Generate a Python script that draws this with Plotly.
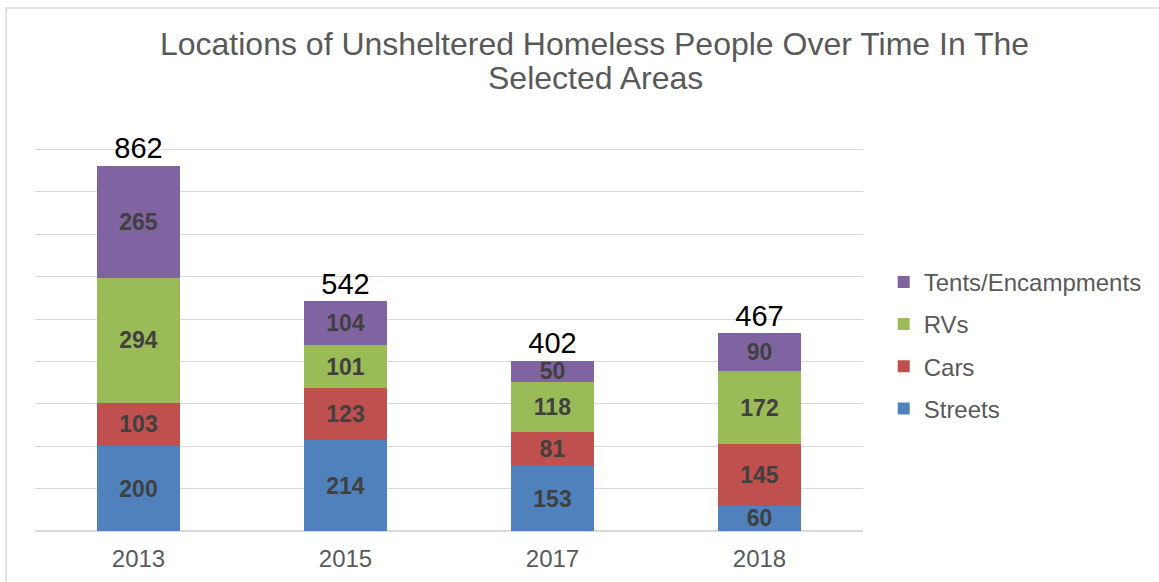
import plotly.graph_objects as go

years = ["2013", "2015", "2017", "2018"]
streets = [200, 214, 153, 60]
cars = [103, 123, 81, 145]
rvs = [294, 101, 118, 172]
tents = [265, 104, 50, 90]
totals = [862, 542, 402, 467]

series = [
    ("Streets", streets, "#4F81BD"),
    ("Cars", cars, "#C0504D"),
    ("RVs", rvs, "#9BBB59"),
    ("Tents/Encampments", tents, "#8064A2"),
]

FONT = "Liberation Sans, Arial, sans-serif"

fig = go.Figure()
for i, (name, vals, color) in enumerate(series):
    fig.add_trace(go.Bar(
        x=years, y=vals, name=name,
        marker=dict(color=color, line=dict(width=0)),
        text=vals, textposition="inside", insidetextanchor="middle",
        textangle=0,
        textfont=dict(family=FONT, size=23, color="#404040", weight="bold"),
        legendgroup=name, legendrank=len(series) - i,
    ))

# totals above each stack
fig.add_trace(go.Scatter(
    x=years, y=totals, mode="text", text=totals,
    textposition="top center", showlegend=False, hoverinfo="skip",
    textfont=dict(family=FONT, size=29, color="#000000"),
))

fig.update_layout(
    width=1159, height=582,
    margin=dict(l=35, r=296, t=107, b=51, autoexpand=False),
    barmode="stack", bargap=0.6,
    paper_bgcolor="white", plot_bgcolor="white",
    font=dict(family=FONT, color="#595959"),
    uniformtext=dict(mode="show", minsize=23),
    title=dict(
        text="Locations of Unsheltered Homeless People Over Time In The",
        x=0.513, xanchor="center", y=0.924, yanchor="middle",
        font=dict(family=FONT, size=32, color="#595959"),
    ),
    xaxis=dict(type="category", showgrid=False, showline=False, ticks="",
               ticklabelstandoff=11,
               tickfont=dict(size=24, color="#595959")),
    yaxis=dict(range=[0, 1000], dtick=100, showticklabels=False,
               gridcolor="#d9d9d9", gridwidth=1, zeroline=True,
               zerolinecolor="#d9d9d9", zerolinewidth=1.5),
    legend=dict(
        x=1.025, xanchor="left", y=0.438, yanchor="middle",
        traceorder="grouped", tracegroupgap=8,
        font=dict(family=FONT, size=24, color="#595959"),
    ),
    shapes=[dict(type="rect", xref="paper", yref="paper",
                 x0=-0.035, x1=1.4, y0=-0.3, y1=1.2335,
                 line=dict(color="#d9d9d9", width=1.5), layer="below")],
)

# second line of the title
fig.add_annotation(
    text="Selected Areas", xref="paper", yref="paper",
    x=(595 - 35) / 828, y=1.068, xanchor="center", yanchor="middle",
    showarrow=False, font=dict(family=FONT, size=32, color="#595959"),
)

fig.write_html("out.html", config={"displayModeBar": False},
               post_script="document.body.style.margin='0px';")
